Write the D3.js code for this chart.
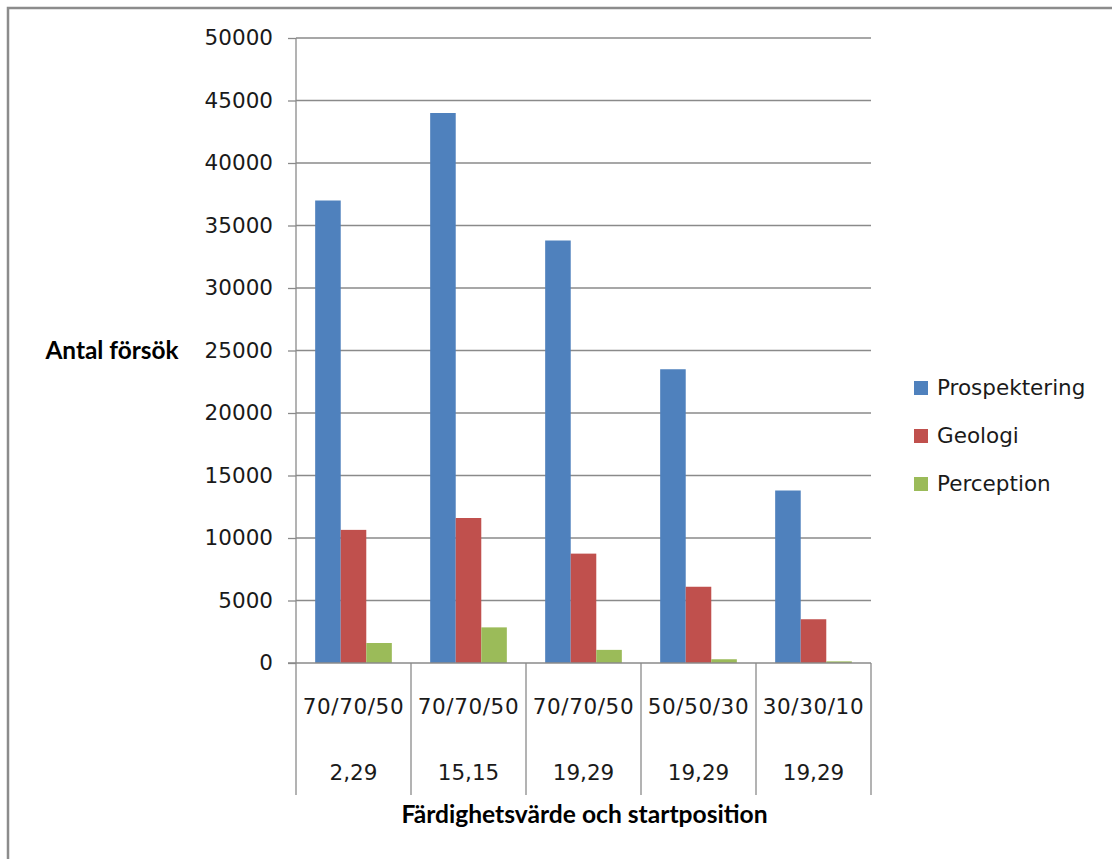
<!DOCTYPE html>
<html>
<head>
<meta charset="utf-8">
<script src="https://cdn.jsdelivr.net/npm/d3@7"></script>
<style>
  html, body { margin: 0; padding: 0; background: #fff; overflow: hidden; }
  svg { display: block; }
</style>
</head>
<body>
<svg id="chart" width="1112" height="859"></svg>
<script>
// ---- data ----
const categoriesTop = ["70/70/50", "70/70/50", "70/70/50", "50/50/30", "30/30/10"];
const categoriesBottom = ["2,29", "15,15", "19,29", "19,29", "19,29"];
const seriesNames = ["Prospektering", "Geologi", "Perception"];
const prospektering = [37000, 44000, 33800, 23500, 13800];
const geologi = [10650, 11600, 8750, 6100, 3500];
const perception = [1600, 2850, 1050, 300, 130];
const yTicks = [0, 5000, 10000, 15000, 20000, 25000, 30000, 35000, 40000, 45000, 50000];
const seriesColors = ["#4F81BD", "#C0504D", "#9BBB59"];
const yTitle = "Antal försök";
const xTitle = "Färdighetsvärde och startposition";

const seriesValues = [prospektering, geologi, perception];

// ---- layout ----
const svg = d3.select("#chart");
const plotL = 296, plotR = 871, plotT = 38, plotB = 663, catB = 795;

// outer border
svg.append("rect")
  .attr("x", 8).attr("y", 8).attr("width", 1200).attr("height", 1000)
  .attr("fill", "none").attr("stroke", "#8c8c8c").attr("stroke-width", 2.5);

const idx = categoriesTop.map((d, i) => i);
const x = d3.scaleBand().domain(idx).range([plotL, plotR]).paddingInner(0).paddingOuter(0);
const xs = d3.scaleBand().domain(d3.range(seriesNames.length)).range([0, x.bandwidth()])
  .paddingInner(0).paddingOuter(0.75);
const y = d3.scaleLinear().domain([0, 50000]).range([plotB, plotT]);

const gridColor = "#8a8a8a";

// gridlines
svg.append("g").selectAll("line").data(yTicks.filter(t => t > 0)).join("line")
  .attr("x1", plotL).attr("x2", plotR)
  .attr("y1", d => y(d)).attr("y2", d => y(d))
  .attr("stroke", gridColor).attr("stroke-width", 1.3);

// y axis
const yAxis = d3.axisLeft(y).tickValues(yTicks).tickSize(8).tickPadding(15).tickFormat(d3.format("d"));
const gy = svg.append("g").attr("transform", `translate(${plotL},0)`).call(yAxis);
gy.select(".domain").remove();
gy.selectAll(".tick line").attr("stroke", gridColor).attr("stroke-width", 1.3);
gy.selectAll(".tick text")
  .attr("font-family", "'DejaVu Sans', Verdana, sans-serif")
  .attr("font-size", "21.5px").attr("fill", "#1a1a1a");

// bars
const groups = svg.append("g").selectAll("g").data(seriesValues).join("g")
  .attr("fill", (d, i) => seriesColors[i]);
groups.each(function(vals, si) {
  d3.select(this).selectAll("rect").data(vals).join("rect")
    .attr("x", (d, ci) => x(ci) + xs(si))
    .attr("width", xs.bandwidth())
    .attr("y", d => y(d))
    .attr("height", d => y(0) - y(d));
});

// axis lines
svg.append("line").attr("x1", plotL).attr("x2", plotL).attr("y1", plotT).attr("y2", catB)
  .attr("stroke", gridColor).attr("stroke-width", 1.3);
svg.append("line").attr("x1", plotL - 8).attr("x2", plotR).attr("y1", plotB).attr("y2", plotB)
  .attr("stroke", gridColor).attr("stroke-width", 1.3);

// category dividers
const bounds = idx.map(i => x(i) + x.bandwidth());
svg.append("g").selectAll("line").data(bounds).join("line")
  .attr("x1", d => d).attr("x2", d => d).attr("y1", plotB).attr("y2", catB)
  .attr("stroke", gridColor).attr("stroke-width", 1.3);

// category labels
const labelFont = "'DejaVu Sans', Verdana, sans-serif";
svg.append("g").selectAll("text").data(categoriesTop).join("text")
  .attr("x", (d, i) => x(i) + x.bandwidth() / 2).attr("y", 714)
  .attr("text-anchor", "middle").attr("font-family", labelFont)
  .attr("font-size", "21.5px").attr("letter-spacing", "0.6px").attr("fill", "#1a1a1a").text(d => d);
svg.append("g").selectAll("text").data(categoriesBottom).join("text")
  .attr("x", (d, i) => x(i) + x.bandwidth() / 2).attr("y", 780)
  .attr("text-anchor", "middle").attr("font-family", labelFont)
  .attr("font-size", "21.5px").attr("fill", "#1a1a1a").text(d => d);

// axis titles
const titleFont = "Lato, 'Open Sans', sans-serif";
svg.append("text").attr("x", (plotL + plotR) / 2 + 1).attr("y", 823)
  .attr("text-anchor", "middle").attr("font-family", titleFont).attr("font-weight", "bold")
  .attr("font-size", "24.6px").attr("fill", "#000").text(xTitle);
svg.append("text").attr("x", 112).attr("y", 359)
  .attr("text-anchor", "middle").attr("font-family", titleFont).attr("font-weight", "bold")
  .attr("font-size", "24.4px").attr("fill", "#000").text(yTitle);

// legend
const legend = svg.append("g").selectAll("g").data(seriesNames).join("g")
  .attr("transform", (d, i) => `translate(914,${381 + i * 48})`);
legend.append("rect").attr("width", 14).attr("height", 14)
  .attr("fill", (d, i) => seriesColors[i]);
legend.append("text").attr("x", 23).attr("y", 14)
  .attr("font-family", labelFont).attr("font-size", "21.5px").attr("fill", "#1a1a1a")
  .text(d => d);
</script>
</body>
</html>
